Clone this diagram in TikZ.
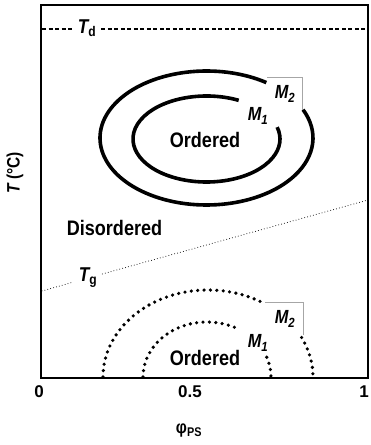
\documentclass[tikz,border=0pt]{standalone}
\usepackage{fontspec}
\setmainfont{Liberation Sans}
\newfontfamily\condfont{Liberation Sans}[FakeStretch=0.86]
\begin{document}
\begin{tikzpicture}[x=1pt,y=1pt,
  frameline/.style={line width=1.4pt},
  solidring/.style={line width=3.6pt},
  dotring/.style={line width=3.6pt, line cap=round, dash pattern=on 0pt off 6.4pt},
  tgline/.style={line width=1pt, line cap=round, dash pattern=on 0pt off 3pt},
  tdline/.style={line width=1.1pt, dash pattern=on 4pt off 2.5pt},
  boxline/.style={line width=0.5pt, gray!70},
  region/.style={font=\condfont\bfseries\fontsize{21}{21}\selectfont, inner sep=0pt},
  mlab/.style={font=\condfont\bfseries\itshape\fontsize{19}{19}\selectfont, inner sep=0pt},
  tlab/.style={font=\condfont\bfseries\fontsize{20}{20}\selectfont, inner sep=5pt},
  tick/.style={font=\bfseries\fontsize{17}{17}\selectfont, inner sep=0pt},
  axlab/.style={font=\condfont\bfseries\fontsize{18}{18}\selectfont, inner sep=0pt}
]
\useasboundingbox (0,0) rectangle (370,445);
% frame
\draw[frameline] (41,67) rectangle (368,440);
% T_d line
\coordinate (tdL) at (42,416);
\coordinate (tdR) at (368,416);
\node[tlab] (td) at (87,417) {\itshape T\textsubscript{\upshape d}};
\draw[tdline] (tdL) -- (td.west |- tdL);
\draw[tdline] (td.east |- tdR) -- (tdR);
% T_g line
\coordinate (tgL) at (42,154);
\coordinate (tgR) at (368,245);
\node[tlab] (tg) at (88,167) {\itshape T\textsubscript{\upshape g}};
\draw[tgline] (tgL) -- (tg);
\draw[tgline] (tg) -- (tgR);
% top ordered rings (solid)
\draw[solidring, shift={(206.5,307)}] (55.8:106.5 and 67) arc[start angle=55.8, end angle=385, x radius=106.5, y radius=67];
\draw[solidring, shift={(206.5,306)}] (64:73.5 and 43) arc[start angle=64, end angle=376, x radius=73.5, y radius=43];
\draw[boxline] (267,368) -- (302,368) -- (302,335);
\node[mlab] (m2a) at (285,351) {M\textsubscript{2}};
\node[mlab] (m1a) at (258,329) {M\textsubscript{1}};
\node[region] (orda) at (205,305) {Ordered};
\node[region] (dis) at (114.5,217.5) {Disordered};
% bottom ordered rings (dotted)
\draw[dotring, shift={(208,68)}] (180:105 and 87) arc[start angle=180, end angle=57.4, x radius=105, y radius=87];
\draw[dotring, shift={(208,68)}] (27:105 and 87) arc[start angle=27, end angle=0, x radius=105, y radius=87];
\draw[dotring, shift={(207,68)}] (180:64 and 55) arc[start angle=180, end angle=61.5, x radius=64, y radius=55];
\draw[dotring, shift={(207,68)}] (21:64 and 55) arc[start angle=21, end angle=0, x radius=64, y radius=55];
\draw[boxline] (265,143) -- (303,143) -- (303,110);
\node[mlab] (m2b) at (285,126) {M\textsubscript{2}};
\node[mlab] (m1b) at (258,102) {M\textsubscript{1}};
\node[region] (ordb) at (205,87.5) {Ordered};
% ticks and axis labels
\node[tick] (x0) at (39,53) {0};
\node[tick] (x05) at (190,53) {0.5};
\node[tick] (x1) at (364,53) {1};
\node[axlab] (xl) at (189,14) {φ\textsubscript{PS}};
\node[axlab, rotate=90] (yl) at (15,272) {\itshape T\upshape\ (°C)};
\end{tikzpicture}
\end{document}
